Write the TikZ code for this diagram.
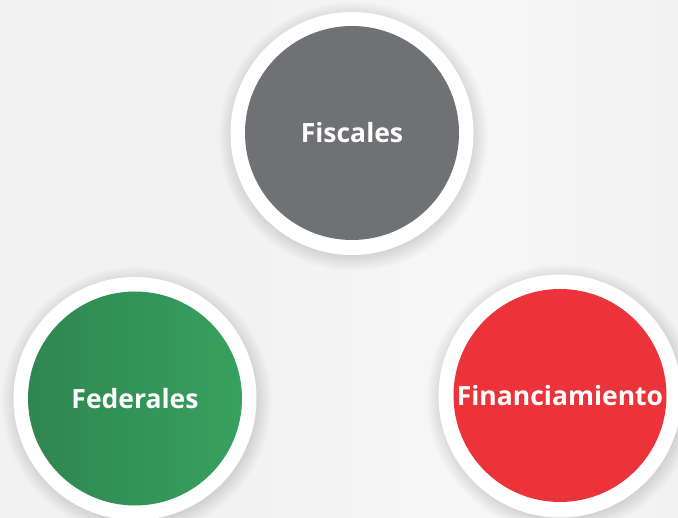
\documentclass[tikz,border=0pt]{standalone}
\usepackage{fontspec}
\setmainfont{Open Sans}
\definecolor{bg}{HTML}{F2F2F2}
\definecolor{bglight}{HTML}{F7F7F7}
\definecolor{fiscgray}{HTML}{707175}
\definecolor{fedgreenL}{HTML}{2E8650}
\definecolor{fedgreenR}{HTML}{38A15F}
\definecolor{finred}{HTML}{EC333A}
\tikzset{
  ring/.style={circle, fill=white, minimum size=243pt, inner sep=0pt},
  disc/.style={circle, minimum size=214pt, inner sep=0pt, text=white,
    font=\fontsize{26.5}{32}\selectfont\bfseries},
  softshadow/.style={black, opacity=0.009}
}
\begin{document}
\begin{tikzpicture}[x=1pt,y=-1pt]
\useasboundingbox (0,0) rectangle (678,518);
\fill[bg] (0,0) rectangle (678,518);
\shade[left color=bg, right color=bg, middle color=bglight] (250,0) rectangle (678,518);
\coordinate (c1) at (352,133.5);
\coordinate (c2) at (135,398.5);
\coordinate (c3) at (560,396);
\foreach \c in {c1,c2,c3}{
  \foreach \k in {1,...,16}{
    \fill[softshadow] ([shift={(1.5,3)}]\c) circle ({119+\k});
  }
}
\node[ring] (r1) at (c1) {};
\node[ring] (r2) at (c2) {};
\node[ring] (r3) at (c3) {};
\node[disc, fill=fiscgray] (fisc) at (352,133) {Fiscales};
\node[disc, left color=fedgreenL, right color=fedgreenR] (fed) at (135,398.5) {Federales};
\node[disc, fill=finred, minimum size=213pt] (fin) at (560,395.5) {Financiamiento};
\end{tikzpicture}
\end{document}
